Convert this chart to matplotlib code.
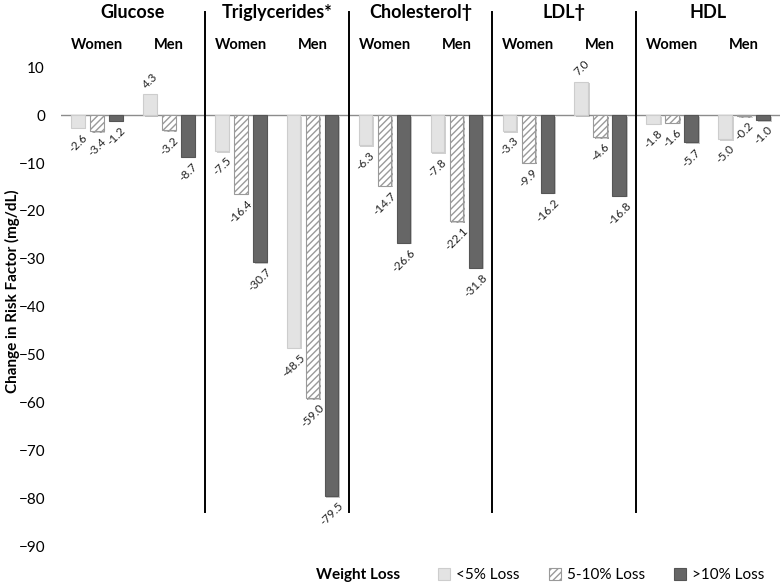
import matplotlib
matplotlib.use("Agg")
import matplotlib.pyplot as plt
from matplotlib.patches import Patch
import matplotlib.patheffects as pe
import numpy as np

plt.rcParams["font.family"] = ["Lato", "DejaVu Sans"]
plt.rcParams["hatch.linewidth"] = 1.0

# ---- data (mg/dL change) ----
panels  = ["Glucose", "Triglycerides*", "Cholesterol\u2020", "LDL\u2020", "HDL"]
genders = ["Women", "Men"]
series  = ["<5% Loss", "5-10% Loss", ">10% Loss"]

women_lt5   = [-2.6, -7.5, -6.3, -3.3, -1.8]
women_5_10  = [-3.4, -16.4, -14.7, -9.9, -1.6]
women_gt10  = [-1.2, -30.7, -26.6, -16.2, -5.7]
men_lt5     = [4.3, -48.5, -7.8, 7.0, -5.0]
men_5_10    = [-3.2, -59.0, -22.1, -4.6, -0.2]
men_gt10    = [-8.7, -79.5, -31.8, -16.8, -1.0]

values = {
    "Women": [women_lt5, women_5_10, women_gt10],
    "Men":   [men_lt5, men_5_10, men_gt10],
}

# ---- styles ----
FACE  = ["#e3e3e3", "white", "#666666"]
EDGE  = ["#cdcdcd", "#9a9a9a", "#555555"]
HATCH = [None, "/////", None]

fig = plt.figure(figsize=(7.8, 5.85), dpi=100)
ax = fig.add_axes([61 / 780, 24 / 585, 719 / 780, 561 / 585])
ax.set_xlim(0, 10)
ax.set_ylim(-93, 24)

shadow = [pe.SimplePatchShadow(offset=(1.2, -1.2), alpha=0.25), pe.Normal()]
off = 0.264
w = 0.19
for p in range(len(panels)):
    for g, gender in enumerate(genders):
        center = 2 * p + g + 0.5
        for k in range(3):
            v = values[gender][k][p]
            x = center + (k - 1) * off
            ax.bar(x, v, w, color=FACE[k], edgecolor=EDGE[k], hatch=HATCH[k],
                   linewidth=0.8, zorder=3, path_effects=shadow)
            if v < 0:
                ax.annotate(f"{v:.1f}", (x, v), xytext=(0, -3), textcoords="offset points",
                            rotation=45, ha="center", va="top", fontsize=8.5, color="#222222")
            else:
                ax.annotate(f"{v:.1f}", (x, v), xytext=(0, 3), textcoords="offset points",
                            rotation=45, ha="center", va="bottom", fontsize=8.5, color="#222222")
        ax.text(center, 14.6, gender, ha="center", va="center",
                fontsize=10.5, fontweight="bold")
    ax.text(2 * p + 1, 21.3, panels[p], ha="center", va="center",
            fontsize=13, fontweight="bold")

# panel separators and zero line
for p in range(1, len(panels)):
    ax.plot([2 * p, 2 * p], [-82.7, 21.5], color="black", lw=1.4, zorder=4)
ax.axhline(0, color="#8c8c8c", lw=1.0, zorder=2)

for s in ax.spines.values():
    s.set_visible(False)
ax.set_xticks([])
ax.set_yticks(np.arange(-90, 11, 10))
ax.tick_params(axis="y", length=0, pad=11.5, labelsize=11)

fig.text(12 / 780, 1 - 291 / 585, "Change in Risk Factor (mg/dL)", rotation=90,
         ha="center", va="center", fontsize=11, fontweight="bold")

# legend
fig.text(358 / 780, 1 - 575 / 585, "Weight Loss", ha="center", va="center",
         fontsize=11, fontweight="bold")
handles = [Patch(facecolor=FACE[k], edgecolor=EDGE[k], hatch=HATCH[k], linewidth=0.8)
           for k in range(3)]
fig.legend(handles, series, loc="center left", bbox_to_anchor=(424 / 780, 1 - 575 / 585),
           ncol=3, frameon=False, fontsize=11, handlelength=0.8, handleheight=0.8,
           handletextpad=0.4, columnspacing=1.9)

fig.savefig("out.png", dpi=100, facecolor="white")
